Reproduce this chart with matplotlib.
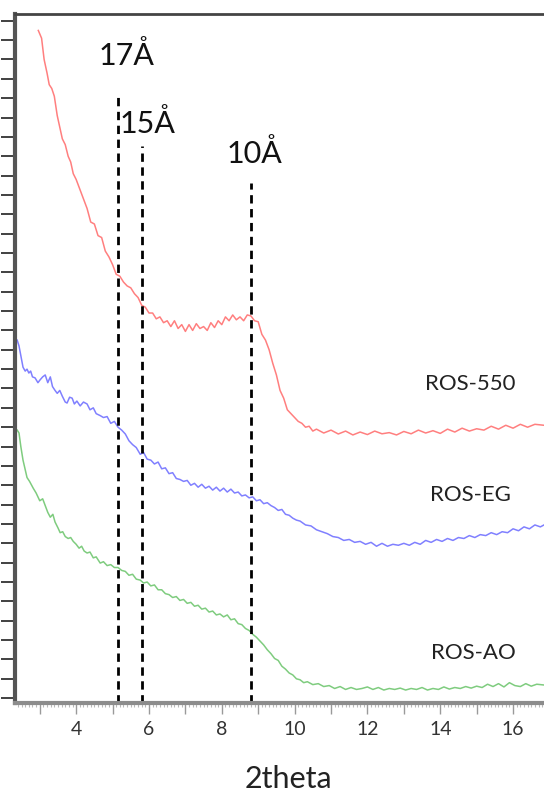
import numpy as np
import matplotlib.pyplot as plt
from matplotlib.ticker import MultipleLocator, NullFormatter, FuncFormatter

plt.rcParams['font.family'] = ['Lato', 'DejaVu Sans']

# 2theta (deg) and intensity (a.u.)
ros550_x = [2.96, 3.05, 3.12, 3.2, 3.26, 3.33, 3.4, 3.48, 3.55, 3.62, 3.7, 3.78, 3.85, 3.92,
            4.0, 4.1, 4.2, 4.3, 4.4, 4.5, 4.6, 4.7, 4.8, 4.9, 5.0, 5.1, 5.2, 5.3, 5.4, 5.5,
            5.6, 5.7, 5.8, 5.9, 6.0, 6.1, 6.2, 6.3, 6.4, 6.5, 6.6, 6.7, 6.8, 6.9, 7.0, 7.1,
            7.2, 7.3, 7.4, 7.5, 7.6, 7.7, 7.8, 7.9, 8.0, 8.1, 8.2, 8.3, 8.4, 8.5, 8.6, 8.7,
            8.8, 8.9, 9.0, 9.1, 9.2, 9.3, 9.4, 9.5, 9.6, 9.7, 9.8, 9.9, 10.0, 10.1, 10.2,
            10.3, 10.4, 10.5, 10.6, 10.8, 11.0, 11.2, 11.4, 11.6, 11.8, 12.0, 12.2, 12.4,
            12.6, 12.8, 13.0, 13.2, 13.4, 13.6, 13.8, 14.0, 14.2, 14.4, 14.6, 14.8, 15.0,
            15.2, 15.4, 15.6, 15.8, 16.0, 16.2, 16.4, 16.6, 16.85]
ros550_y = [34.5, 34.1, 33.0, 32.3, 31.7, 31.5, 31.1, 30.1, 29.5, 28.9, 28.6, 28.0, 27.7, 27.1,
            26.8, 26.3, 25.8, 25.3, 24.6, 24.5, 23.9, 23.8, 23.1, 22.8, 22.4, 21.9, 21.8, 21.5,
            21.3, 21.2, 20.9, 20.7, 20.3, 20.2, 19.9, 19.9, 19.6, 19.7, 19.4, 19.5, 19.2, 19.5,
            19.1, 19.3, 18.95, 19.3, 19.0, 19.35, 19.1, 19.2, 19.0, 19.4, 19.15, 19.5, 19.3,
            19.7, 19.5, 19.8, 19.55, 19.7, 19.5, 19.8, 19.75, 19.5, 19.45, 18.8, 18.5, 18.0,
            17.3, 16.7, 15.9, 15.5, 14.9, 14.7, 14.5, 14.3, 14.2, 14.0, 14.05, 13.8, 13.9,
            13.7, 13.85, 13.65, 13.8, 13.6, 13.75, 13.62, 13.8, 13.66, 13.72, 13.6, 13.78,
            13.66, 13.85, 13.7, 13.82, 13.68, 13.9, 13.75, 13.95, 13.8, 13.92, 13.85, 14.05,
            13.9, 14.1, 13.95, 14.15, 14.0, 14.15, 14.1]

rosEG_x = [2.38, 2.43, 2.5, 2.54, 2.6, 2.65, 2.7, 2.75, 2.8, 2.87, 2.95, 3.01, 3.08, 3.15,
           3.22, 3.29, 3.35, 3.42, 3.48, 3.55, 3.62, 3.7, 3.75, 3.82, 3.89, 3.95, 4.02, 4.11,
           4.2, 4.3, 4.38, 4.47, 4.55, 4.66, 4.75, 4.85, 4.95, 5.05, 5.15, 5.25, 5.35, 5.45,
           5.55, 5.65, 5.76, 5.85, 5.95, 6.05, 6.15, 6.25, 6.35, 6.45, 6.55, 6.65, 6.75, 6.85,
           6.95, 7.05, 7.15, 7.25, 7.35, 7.45, 7.55, 7.65, 7.75, 7.85, 7.95, 8.05, 8.15, 8.25,
           8.35, 8.45, 8.55, 8.65, 8.75, 8.85, 8.95, 9.05, 9.15, 9.25, 9.35, 9.45, 9.55, 9.65,
           9.75, 9.85, 9.95, 10.05, 10.15, 10.3, 10.45, 10.6, 10.75, 10.9, 11.05, 11.2, 11.35,
           11.5, 11.65, 11.8, 11.95, 12.1, 12.25, 12.4, 12.55, 12.7, 12.85, 13.0, 13.15, 13.3,
           13.45, 13.6, 13.75, 13.9, 14.05, 14.2, 14.35, 14.5, 14.65, 14.8, 14.95, 15.1, 15.25,
           15.4, 15.55, 15.7, 15.85, 16.0, 16.15, 16.3, 16.45, 16.6, 16.75, 16.85]
rosEG_y = [18.5, 18.2, 17.5, 17.1, 16.9, 17.0, 16.8, 16.9, 16.6, 16.55, 16.3, 16.45, 16.6, 16.7,
           16.3, 16.6, 16.1, 15.9, 15.75, 15.9, 15.6, 15.3, 15.25, 15.55, 15.5, 15.2, 15.35, 15.1,
           15.3, 15.2, 14.9, 15.0, 14.7, 14.6, 14.5, 14.55, 14.2, 14.3, 14.0, 13.85, 13.65, 13.3,
           13.1, 12.95, 12.6, 12.7, 12.35, 12.3, 12.1, 12.2, 11.85, 11.9, 11.6, 11.65, 11.35, 11.3,
           11.2, 11.25, 11.0, 11.1, 10.9, 11.05, 10.85, 10.95, 10.75, 10.9, 10.7, 10.85, 10.65, 10.8,
           10.6, 10.65, 10.45, 10.5, 10.35, 10.4, 10.2, 10.25, 10.05, 10.1, 9.95, 9.85, 9.7, 9.75,
           9.5, 9.45, 9.3, 9.2, 9.15, 8.95, 8.9, 8.7, 8.6, 8.5, 8.35, 8.3, 8.15,
           8.2, 8.05, 8.1, 7.95, 8.05, 7.85, 8.0, 7.85, 7.95, 7.9, 8.0, 7.9, 8.05,
           7.95, 8.15, 8.05, 8.2, 8.1, 8.25, 8.15, 8.3, 8.25, 8.4, 8.3, 8.45, 8.4,
           8.55, 8.45, 8.6, 8.55, 8.75, 8.65, 8.85, 8.75, 8.95, 8.85, 8.95]

rosAO_x = [2.38, 2.43, 2.48, 2.54, 2.6, 2.65, 2.72, 2.82, 2.9, 3.0, 3.08, 3.15, 3.22, 3.29,
           3.36, 3.42, 3.5, 3.56, 3.63, 3.7, 3.78, 3.85, 3.92, 4.0, 4.08, 4.15, 4.22, 4.3, 4.38,
           4.47, 4.55, 4.66, 4.75, 4.85, 4.95, 5.05, 5.15, 5.25, 5.35, 5.45, 5.55, 5.65, 5.76,
           5.85, 5.95, 6.05, 6.15, 6.25, 6.35, 6.45, 6.55, 6.65, 6.75, 6.85, 6.95, 7.05, 7.15,
           7.25, 7.35, 7.45, 7.55, 7.65, 7.75, 7.85, 7.95, 8.05, 8.15, 8.25, 8.35, 8.45, 8.55,
           8.65, 8.75, 8.85, 8.95, 9.05, 9.15, 9.25, 9.35, 9.45, 9.55, 9.65, 9.75, 9.85, 9.95,
           10.05, 10.15, 10.25, 10.35, 10.5, 10.65, 10.8, 10.95, 11.1, 11.25, 11.4, 11.55, 11.7,
           11.85, 12.0, 12.15, 12.3, 12.45, 12.6, 12.75, 12.9, 13.05, 13.2, 13.35, 13.5, 13.65,
           13.8, 13.95, 14.1, 14.25, 14.4, 14.55, 14.7, 14.85, 15.0, 15.15, 15.3, 15.45, 15.6,
           15.75, 15.9, 16.05, 16.2, 16.35, 16.5, 16.65, 16.85]
rosAO_y = [13.85, 13.7, 13.0, 12.3, 11.8, 11.4, 11.2, 10.85, 10.6, 10.2, 10.3, 9.95, 9.6, 9.35,
           9.5, 9.1, 8.8, 8.55, 8.6, 8.35, 8.25, 8.3, 8.1, 7.95, 7.75, 7.85, 7.6, 7.5, 7.55,
           7.25, 7.3, 6.98, 7.05, 6.85, 6.9, 6.75, 6.75, 6.6, 6.55, 6.35, 6.4, 6.15, 6.1,
           5.95, 6.0, 5.8, 5.85, 5.6, 5.6, 5.4, 5.35, 5.2, 5.25, 5.05, 5.1, 4.9, 4.95,
           4.75, 4.8, 4.6, 4.65, 4.45, 4.5, 4.3, 4.35, 4.2, 4.3, 4.05, 4.1, 3.85, 3.8,
           3.6, 3.5, 3.3, 3.15, 2.95, 2.75, 2.5, 2.3, 2.05, 1.95, 1.65, 1.5, 1.3, 1.2,
           1.0, 0.95, 0.8, 0.85, 0.7, 0.75, 0.6, 0.65, 0.5, 0.6, 0.45, 0.55, 0.45,
           0.5, 0.58, 0.45, 0.55, 0.42, 0.5, 0.45, 0.52, 0.42, 0.5, 0.45, 0.55, 0.42,
           0.5, 0.45, 0.58, 0.47, 0.55, 0.5, 0.6, 0.52, 0.62, 0.55, 0.72, 0.6, 0.75,
           0.58, 0.8, 0.65, 0.6, 0.75, 0.62, 0.72, 0.68]

series_names = ['ROS-550', 'ROS-EG', 'ROS-AO']
series_colors = ['#ff7f7f', '#8080ff', '#7fcc7f']
series_label_xy = [(14.82, 16.23), (14.82, 10.49), (14.91, 2.33)]

d_labels = ['17Å', '15Å', '10Å']
d_pos = [5.15, 5.80, 8.80]
d_line_top = [31.32, 28.53, 26.62]
d_label_xy = [(5.38, 32.71), (5.95, 29.20), (8.89, 27.65)]

fig = plt.figure(figsize=(5.44, 7.96), dpi=100)
ax = fig.add_axes([15 / 544, 93 / 796, 1 - 15 / 544, (703 - 14) / 796])

for xs, ys, c in zip([ros550_x, rosEG_x, rosAO_x], [ros550_y, rosEG_y, rosAO_y], series_colors):
    ax.plot(xs, ys, color=c, lw=1.1)

ymin, ymax = -0.25, 35.35
for x, top in zip(d_pos, d_line_top):
    ax.plot([x, x], [ymin, top], color='black', lw=2, ls=(0, (3, 2)))

for lab, (x, y) in zip(d_labels, d_label_xy):
    ax.text(x, y, lab, fontsize=22, ha='center', va='baseline', color='#111111')

for name, (x, y) in zip(series_names, series_label_xy):
    ax.text(x, y, name, fontsize=16, ha='center', va='center', color='#222222')

ax.set_xlim(2.32, 16.85)
ax.set_ylim(ymin, ymax)

ax.xaxis.set_major_locator(MultipleLocator(1))
ax.xaxis.set_minor_locator(MultipleLocator(0.1))
ax.xaxis.set_major_formatter(FuncFormatter(lambda v, p: f'{int(round(v))}' if round(v) % 2 == 0 else ''))
ax.tick_params(axis='x', which='major', direction='out', length=8, width=1, color='#9a9a9a',
               labelsize=14, pad=5, labelcolor='#333333')
ax.tick_params(axis='x', which='minor', direction='out', length=3, width=0.8, color='#b8b8b8')

ax.yaxis.set_major_locator(MultipleLocator(1))
ax.yaxis.set_major_formatter(NullFormatter())
ax.tick_params(axis='y', which='major', direction='out', length=10, width=1.3, color='#333333')

ax.spines['right'].set_visible(False)
ax.spines['left'].set_color('#555555')
ax.spines['left'].set_linewidth(3)
ax.spines['top'].set_color('#444444')
ax.spines['top'].set_linewidth(2)
ax.spines['bottom'].set_color('#8c8c8c')
ax.spines['bottom'].set_linewidth(3)

fig.text(288 / 544, 8 / 796, '2theta', fontsize=22, ha='center', va='baseline', color='#222222')

fig.savefig('out.png', dpi=100)
